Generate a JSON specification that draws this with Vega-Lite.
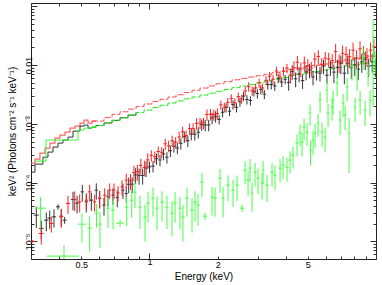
{
"$schema":"https://vega.github.io/schema/vega-lite/v6.json",
"width":345,"height":256,
"autosize":{"type":"none"},
"padding":{"left":31,"top":3,"right":6,"bottom":26},
"background":"white",
"config":{"view":{"stroke":"#222222","strokeWidth":1},
 "axis":{"labelFont":"Liberation Sans","titleFont":"Liberation Sans","labelColor":"black","titleColor":"black","tickColor":"#333333","titleFontWeight":"normal","labelFontSize":9,"titleFontSize":10,"domain":false,"grid":false,"labelFlush":false,"labelOverlap":false}},
"datasets":{
"model":[
{"e":0.300,"r":2.143e-4,"k":1.507e-4,"g":null},
{"e":0.3124,"r":2.506e-4,"k":2.061e-4,"g":2.317e-4},
{"e":0.3286,"r":3.177e-4,"k":2.061e-4,"g":2.317e-4},
{"e":0.3388,"r":3.177e-4,"k":2.710e-4,"g":2.317e-4},
{"e":0.3458,"r":3.864e-4,"k":2.710e-4,"g":2.317e-4},
{"e":0.3494,"r":3.864e-4,"k":2.710e-4,"g":5.284e-4},
{"e":0.3565,"r":3.864e-4,"k":3.304e-4,"g":5.284e-4},
{"e":0.3639,"r":4.699e-4,"k":3.304e-4,"g":5.284e-4},
{"e":0.3752,"r":4.699e-4,"k":4.018e-4,"g":5.284e-4},
{"e":0.3828,"r":5.715e-4,"k":4.018e-4,"g":5.284e-4},
{"e":0.3947,"r":5.715e-4,"k":4.699e-4,"g":5.284e-4},
{"e":0.4028,"r":6.427e-4,"k":4.699e-4,"g":5.284e-4},
{"e":0.4153,"r":6.427e-4,"k":5.284e-4,"g":5.284e-4},
{"e":0.4238,"r":7.228e-4,"k":5.284e-4,"g":5.284e-4},
{"e":0.4369,"r":7.228e-4,"k":5.943e-4,"g":5.284e-4},
{"e":0.4459,"r":8.453e-4,"k":5.943e-4,"g":5.284e-4},
{"e":0.4598,"r":8.453e-4,"k":7.516e-4,"g":5.284e-4},
{"e":0.4692,"r":9.141e-4,"k":7.516e-4,"g":5.284e-4},
{"e":0.4838,"r":9.141e-4,"k":7.516e-4,"g":7.816e-4},
{"e":0.4937,"r":1.030e-3,"k":9.141e-4,"g":7.816e-4},
{"e":0.5142,"r":1.159e-3,"k":9.528e-4,"g":8.453e-4},
{"e":0.5356,"r":1.030e-3,"k":8.453e-4,"g":8.453e-4},
{"e":0.5578,"r":1.114e-3,"k":8.790e-4,"g":8.790e-4},
{"e":0.5808,"r":1.114e-3,"k":9.37e-4,"g":9.37e-4},
{"e":0.6302,"r":1.274e-3,"k":1.033e-3,"g":1.033e-3},
{"e":0.6834,"r":1.449e-3,"k":1.146e-3,"g":1.146e-3},
{"e":0.7413,"r":1.603e-3,"k":1.268e-3,"g":1.268e-3},
{"e":0.8043,"r":1.782e-3,"k":1.409e-3,"g":1.409e-3},
{"e":0.8724,"r":1.966e-3,"k":1.556e-3,"g":1.556e-3},
{"e":0.9463,"r":2.177e-3,"k":1.714e-3,"g":1.714e-3},
{"e":1.0264,"r":2.404e-3,"k":1.897e-3,"g":1.897e-3},
{"e":1.1133,"r":2.618e-3,"k":2.070e-3,"g":2.070e-3},
{"e":1.2075,"r":2.858e-3,"k":2.265e-3,"g":2.265e-3},
{"e":1.3101,"r":3.126e-3,"k":2.460e-3,"g":2.460e-3},
{"e":1.4212,"r":3.404e-3,"k":2.661e-3,"g":2.661e-3},
{"e":1.5416,"r":3.724e-3,"k":2.864e-3,"g":2.864e-3},
{"e":1.6722,"r":4.064e-3,"k":3.090e-3,"g":3.090e-3},
{"e":1.8134,"r":4.416e-3,"k":3.327e-3,"g":3.327e-3},
{"e":1.9674,"r":4.808e-3,"k":3.573e-3,"g":3.573e-3},
{"e":2.1340,"r":5.224e-3,"k":3.846e-3,"g":3.846e-3},
{"e":2.3147,"r":5.623e-3,"k":4.130e-3,"g":4.130e-3},
{"e":2.5107,"r":5.943e-3,"k":4.395e-3,"g":4.395e-3},
{"e":2.7233,"r":6.252e-3,"k":4.677e-3,"g":4.677e-3},
{"e":2.9544,"r":6.577e-3,"k":4.977e-3,"g":4.977e-3},
{"e":3.2047,"r":6.982e-3,"k":5.321e-3,"g":5.321e-3},
{"e":3.4761,"r":7.430e-3,"k":5.741e-3,"g":5.741e-3},
{"e":3.7705,"r":7.907e-3,"k":6.152e-3,"g":6.152e-3},
{"e":4.0898,"r":8.433e-3,"k":6.637e-3,"g":6.637e-3},
{"e":4.4373,"r":8.913e-3,"k":7.015e-3,"g":7.015e-3},
{"e":4.8130,"r":9.376e-3,"k":7.379e-3,"g":7.379e-3},
{"e":5.2206,"r":9.908e-3,"k":7.762e-3,"g":7.762e-3},
{"e":5.6624,"r":1.042e-2,"k":8.222e-3,"g":8.222e-3},
{"e":6.1419,"r":1.096e-2,"k":8.670e-3,"g":8.670e-3},
{"e":6.6638,"r":1.159e-2,"k":9.141e-3,"g":9.141e-3},
{"e":7.2277,"r":1.219e-2,"k":9.638e-3,"g":9.638e-3},
{"e":7.8398,"r":1.282e-2,"k":1.014e-2,"g":1.014e-2},
{"e":8.5037,"r":1.343e-2,"k":1.072e-2,"g":1.072e-2},
{"e":9.2237,"r":1.416e-2,"k":1.122e-2,"g":1.122e-2},
{"e":10.0,"r":1.483e-2,"k":1.172e-2,"g":1.172e-2}
],
"black":[
{"e":0.3166,"de":0.008,"v":2.79e-5,"dv":1.1e-5},
{"e":0.333,"de":0.008,"v":1.66e-5,"dv":5.8e-6},
{"e":0.3505,"de":0.008,"v":2.29e-5,"dv":8e-6},
{"e":0.3628,"de":0.008,"v":2.48e-5,"dv":8.5e-6},
{"e":0.379,"de":0.008,"v":2.61e-5,"dv":9e-6},
{"e":0.3948,"de":0.008,"v":3.86e-5,"dv":4e-6},
{"e":0.408,"de":0.008,"v":2.68e-5,"dv":9e-6},
{"e":0.4223,"de":0.009,"v":2.29e-5,"dv":3e-6},
{"e":0.4597,"de":0.009,"v":5.16e-5,"dv":1.8e-5},
{"e":0.479,"de":0.009,"v":4.47e-5,"dv":1.5e-5},
{"e":0.5053,"de":0.009,"v":6.95e-5,"dv":2.2e-5},
{"e":0.5263,"de":0.009,"v":4.70e-5,"dv":1.6e-5},
{"e":0.5538,"de":0.01,"v":5.02e-5,"dv":1.7e-5},
{"e":0.5825,"de":0.01,"v":7.43e-5,"dv":2.3e-5},
{"e":0.603,"de":0.01,"v":5.43e-5,"dv":1.8e-5},
{"e":0.630,"de":0.01,"v":4.13e-5,"dv":1.4e-5},
{"e":0.656,"de":0.011,"v":5.71e-5,"dv":1.8e-5},
{"e":0.690,"de":0.011,"v":6.11e-5,"dv":1.9e-5},
{"e":0.721,"de":0.012,"v":5.58e-5,"dv":1.8e-5},
{"e":0.764,"de":0.012,"v":7.43e-5,"dv":2.2e-5},
{"e":0.790,"de":0.012,"v":6.53e-5,"dv":2e-5},
{"e":0.810,"de":0.0143,"v":9.38e-5,"dv":2.8e-5},
{"e":0.839,"de":0.0149,"v":9.40e-5,"dv":2.8e-5},
{"e":0.869,"de":0.0154,"v":1.352e-4,"dv":4.1e-5},
{"e":0.900,"de":0.0159,"v":1.321e-4,"dv":4.0e-5},
{"e":0.933,"de":0.0165,"v":1.324e-4,"dv":4.0e-5},
{"e":0.966,"de":0.0171,"v":1.774e-4,"dv":5.3e-5},
{"e":1.001,"de":0.0177,"v":1.854e-4,"dv":4.1e-5},
{"e":1.037,"de":0.0184,"v":1.910e-4,"dv":4.2e-5},
{"e":1.074,"de":0.0190,"v":2.559e-4,"dv":5.6e-5},
{"e":1.113,"de":0.0197,"v":2.427e-4,"dv":5.3e-5},
{"e":1.153,"de":0.0204,"v":3.076e-4,"dv":6.8e-5},
{"e":1.194,"de":0.0211,"v":2.698e-4,"dv":5.9e-5},
{"e":1.237,"de":0.0219,"v":3.491e-4,"dv":7.7e-5},
{"e":1.282,"de":0.0227,"v":4.150e-4,"dv":9.1e-5},
{"e":1.328,"de":0.0235,"v":3.882e-4,"dv":8.5e-5},
{"e":1.376,"de":0.0244,"v":4.656e-4,"dv":1.02e-4},
{"e":1.425,"de":0.0252,"v":6.039e-4,"dv":1.33e-4},
{"e":1.477,"de":0.0261,"v":5.164e-4,"dv":1.14e-4},
{"e":1.530,"de":0.0271,"v":6.683e-4,"dv":1.47e-4},
{"e":1.585,"de":0.0281,"v":6.653e-4,"dv":1.46e-4},
{"e":1.642,"de":0.0291,"v":7.194e-4,"dv":1.58e-4},
{"e":1.701,"de":0.0301,"v":9.705e-4,"dv":2.14e-4},
{"e":1.762,"de":0.0312,"v":9.528e-4,"dv":2.10e-4},
{"e":1.826,"de":0.0323,"v":9.572e-4,"dv":2.11e-4},
{"e":1.891,"de":0.0335,"v":1.265e-3,"dv":2.78e-4},
{"e":1.959,"de":0.0347,"v":1.340e-3,"dv":2.95e-4},
{"e":2.030,"de":0.0359,"v":1.189e-3,"dv":2.14e-4},
{"e":2.103,"de":0.0372,"v":1.574e-3,"dv":2.83e-4},
{"e":2.178,"de":0.0386,"v":1.897e-3,"dv":3.41e-4},
{"e":2.257,"de":0.0399,"v":1.644e-3,"dv":2.96e-4},
{"e":2.338,"de":0.0414,"v":2.128e-3,"dv":3.83e-4},
{"e":2.422,"de":0.0429,"v":1.905e-3,"dv":3.43e-4},
{"e":2.509,"de":0.0444,"v":2.377e-3,"dv":4.28e-4},
{"e":2.600,"de":0.0460,"v":2.965e-3,"dv":5.34e-4},
{"e":2.693,"de":0.0477,"v":2.600e-3,"dv":4.68e-4},
{"e":2.790,"de":0.0494,"v":2.500e-3,"dv":4.50e-4},
{"e":2.891,"de":0.0512,"v":3.540e-3,"dv":6.37e-4},
{"e":2.995,"de":0.0530,"v":3.273e-3,"dv":5.89e-4},
{"e":3.102,"de":0.0549,"v":3.855e-3,"dv":6.94e-4},
{"e":3.214,"de":0.0569,"v":3.206e-3,"dv":5.77e-4},
{"e":3.330,"de":0.0589,"v":4.656e-3,"dv":8.38e-4},
{"e":3.449,"de":0.0610,"v":4.677e-3,"dv":8.42e-4},
{"e":3.574,"de":0.0633,"v":4.426e-3,"dv":7.97e-4},
{"e":3.702,"de":0.0655,"v":5.943e-3,"dv":1.07e-3},
{"e":3.835,"de":0.0679,"v":5.140e-3,"dv":9.25e-4},
{"e":3.973,"de":0.0703,"v":5.741e-3,"dv":1.03e-3},
{"e":4.116,"de":0.0729,"v":5.070e-3,"dv":1.42e-3},
{"e":4.265,"de":0.0755,"v":7.762e-3,"dv":2.17e-3},
{"e":4.418,"de":0.0782,"v":5.834e-3,"dv":1.63e-3},
{"e":4.577,"de":0.0810,"v":7.031e-3,"dv":1.97e-3},
{"e":4.742,"de":0.0839,"v":5.445e-3,"dv":1.52e-3},
{"e":4.913,"de":0.0870,"v":7.674e-3,"dv":2.15e-3},
{"e":5.090,"de":0.0901,"v":8.241e-3,"dv":2.31e-3},
{"e":5.273,"de":0.0933,"v":6.281e-3,"dv":1.76e-3},
{"e":5.463,"de":0.0967,"v":7.586e-3,"dv":2.12e-3},
{"e":5.659,"de":0.1002,"v":7.278e-3,"dv":2.04e-3},
{"e":5.863,"de":0.1038,"v":9.661e-3,"dv":2.71e-3},
{"e":6.074,"de":0.1075,"v":6.714e-3,"dv":1.88e-3},
{"e":6.293,"de":0.1114,"v":9.099e-3,"dv":2.55e-3},
{"e":6.519,"de":0.1154,"v":7.586e-3,"dv":2.66e-3},
{"e":6.754,"de":0.1195,"v":9.141e-3,"dv":3.20e-3},
{"e":6.997,"de":0.1238,"v":1.076e-2,"dv":3.77e-3},
{"e":7.249,"de":0.1283,"v":7.278e-3,"dv":2.55e-3},
{"e":7.510,"de":0.1329,"v":1.079e-2,"dv":3.78e-3},
{"e":7.781,"de":0.1377,"v":8.995e-3,"dv":3.15e-3},
{"e":8.061,"de":0.1427,"v":1.007e-2,"dv":3.52e-3},
{"e":8.351,"de":0.1478,"v":8.492e-3,"dv":2.97e-3},
{"e":8.652,"de":0.1531,"v":1.135e-2,"dv":3.97e-3},
{"e":8.963,"de":0.1586,"v":1.265e-2,"dv":4.43e-3},
{"e":9.286,"de":0.1644,"v":9.572e-3,"dv":3.35e-3},
{"e":9.620,"de":0.1703,"v":1.148e-2,"dv":4.02e-3},
{"e":9.967,"de":0.1764,"v":9.528e-3,"dv":3.33e-3}
],
"red":[
{"e":0.305,"de":0.005,"v":1.0e-5,"dv":5e-7},
{"e":0.333,"de":0.008,"v":1.36e-5,"dv":4.8e-6},
{"e":0.3688,"de":0.008,"v":2.01e-5,"dv":6e-6},
{"e":0.408,"de":0.008,"v":2.61e-5,"dv":9e-6},
{"e":0.4369,"de":0.009,"v":4.42e-5,"dv":1.5e-5},
{"e":0.4677,"de":0.009,"v":5.16e-5,"dv":1.9e-5},
{"e":0.492,"de":0.009,"v":4.70e-5,"dv":1.6e-5},
{"e":0.5263,"de":0.009,"v":5.02e-5,"dv":1.6e-5},
{"e":0.5447,"de":0.01,"v":6.95e-5,"dv":2.2e-5},
{"e":0.5727,"de":0.01,"v":4.70e-5,"dv":1.5e-5},
{"e":0.603,"de":0.01,"v":5.37e-5,"dv":1.7e-5},
{"e":0.6346,"de":0.011,"v":6.11e-5,"dv":1.9e-5},
{"e":0.6677,"de":0.011,"v":7.43e-5,"dv":2.2e-5},
{"e":0.6975,"de":0.011,"v":7.43e-5,"dv":2.2e-5},
{"e":0.7266,"de":0.012,"v":6.68e-5,"dv":2e-5},
{"e":0.7565,"de":0.012,"v":8.45e-5,"dv":2.5e-5},
{"e":0.790,"de":0.012,"v":1.10e-4,"dv":3.2e-5},
{"e":0.825,"de":0.0146,"v":1.072e-4,"dv":3.2e-5},
{"e":0.854,"de":0.0151,"v":1.489e-4,"dv":4.5e-5},
{"e":0.885,"de":0.0157,"v":1.535e-4,"dv":4.6e-5},
{"e":0.916,"de":0.0162,"v":1.963e-4,"dv":5.9e-5},
{"e":0.950,"de":0.0168,"v":1.811e-4,"dv":5.4e-5},
{"e":0.983,"de":0.0174,"v":2.427e-4,"dv":7.3e-5},
{"e":1.019,"de":0.0180,"v":2.911e-4,"dv":6.4e-5},
{"e":1.056,"de":0.0187,"v":2.748e-4,"dv":6.0e-5},
{"e":1.093,"de":0.0193,"v":3.381e-4,"dv":7.4e-5},
{"e":1.133,"de":0.0201,"v":3.281e-4,"dv":7.2e-5},
{"e":1.174,"de":0.0208,"v":4.571e-4,"dv":1.01e-4},
{"e":1.215,"de":0.0215,"v":4.217e-4,"dv":9.3e-5},
{"e":1.259,"de":0.0223,"v":5.152e-4,"dv":1.13e-4},
{"e":1.305,"de":0.0231,"v":4.875e-4,"dv":1.07e-4},
{"e":1.352,"de":0.0239,"v":5.970e-4,"dv":1.31e-4},
{"e":1.401,"de":0.0248,"v":7.311e-4,"dv":1.61e-4},
{"e":1.451,"de":0.0257,"v":6.310e-4,"dv":1.39e-4},
{"e":1.504,"de":0.0266,"v":8.337e-4,"dv":1.83e-4},
{"e":1.558,"de":0.0276,"v":8.356e-4,"dv":1.84e-4},
{"e":1.614,"de":0.0286,"v":1.016e-3,"dv":2.24e-4},
{"e":1.672,"de":0.0296,"v":1.035e-3,"dv":2.28e-4},
{"e":1.732,"de":0.0307,"v":1.042e-3,"dv":2.29e-4},
{"e":1.794,"de":0.0318,"v":1.439e-3,"dv":3.17e-4},
{"e":1.859,"de":0.0329,"v":1.462e-3,"dv":3.22e-4},
{"e":1.925,"de":0.0341,"v":1.442e-3,"dv":3.17e-4},
{"e":1.994,"de":0.0353,"v":1.500e-3,"dv":3.30e-4},
{"e":2.067,"de":0.0366,"v":2.104e-3,"dv":3.79e-4},
{"e":2.141,"de":0.0379,"v":1.928e-3,"dv":3.47e-4},
{"e":2.217,"de":0.0392,"v":2.323e-3,"dv":4.18e-4},
{"e":2.298,"de":0.0407,"v":2.704e-3,"dv":4.87e-4},
{"e":2.380,"de":0.0421,"v":2.291e-3,"dv":4.12e-4},
{"e":2.466,"de":0.0436,"v":2.911e-3,"dv":5.24e-4},
{"e":2.554,"de":0.0452,"v":2.655e-3,"dv":4.78e-4},
{"e":2.647,"de":0.0469,"v":3.648e-3,"dv":6.57e-4},
{"e":2.741,"de":0.0485,"v":4.305e-3,"dv":7.75e-4},
{"e":2.840,"de":0.0503,"v":3.656e-3,"dv":6.58e-4},
{"e":2.943,"de":0.0521,"v":4.083e-3,"dv":7.35e-4},
{"e":3.049,"de":0.0540,"v":5.000e-3,"dv":9.00e-4},
{"e":3.158,"de":0.0559,"v":4.083e-3,"dv":7.35e-4},
{"e":3.272,"de":0.0579,"v":5.508e-3,"dv":9.91e-4},
{"e":3.390,"de":0.0600,"v":6.471e-3,"dv":1.16e-3},
{"e":3.511,"de":0.0621,"v":5.754e-3,"dv":1.04e-3},
{"e":3.638,"de":0.0644,"v":7.925e-3,"dv":1.43e-3},
{"e":3.769,"de":0.0667,"v":6.281e-3,"dv":1.13e-3},
{"e":3.904,"de":0.0691,"v":7.907e-3,"dv":1.42e-3},
{"e":4.045,"de":0.0716,"v":8.892e-3,"dv":1.60e-3},
{"e":4.190,"de":0.0742,"v":6.745e-3,"dv":1.89e-3},
{"e":4.342,"de":0.0769,"v":9.078e-3,"dv":2.54e-3},
{"e":4.498,"de":0.0796,"v":1.119e-2,"dv":3.13e-3},
{"e":4.659,"de":0.0825,"v":8.590e-3,"dv":2.41e-3},
{"e":4.827,"de":0.0854,"v":1.091e-2,"dv":3.05e-3},
{"e":5.001,"de":0.0885,"v":9.817e-3,"dv":2.75e-3},
{"e":5.182,"de":0.0917,"v":8.851e-3,"dv":2.48e-3},
{"e":5.368,"de":0.0950,"v":1.265e-2,"dv":3.54e-3},
{"e":5.561,"de":0.0984,"v":1.403e-2,"dv":3.93e-3},
{"e":5.761,"de":0.1020,"v":1.028e-2,"dv":2.88e-3},
{"e":5.969,"de":0.1057,"v":1.315e-2,"dv":3.68e-3},
{"e":6.183,"de":0.1094,"v":1.271e-2,"dv":3.56e-3},
{"e":6.406,"de":0.1134,"v":1.199e-2,"dv":3.36e-3},
{"e":6.636,"de":0.1175,"v":1.698e-2,"dv":5.94e-3},
{"e":6.875,"de":0.1217,"v":1.125e-2,"dv":3.94e-3},
{"e":7.123,"de":0.1261,"v":1.592e-2,"dv":5.57e-3},
{"e":7.379,"de":0.1306,"v":1.521e-2,"dv":5.32e-3},
{"e":7.645,"de":0.1353,"v":1.390e-2,"dv":4.87e-3},
{"e":7.921,"de":0.1402,"v":1.795e-2,"dv":6.28e-3},
{"e":8.206,"de":0.1452,"v":1.327e-2,"dv":4.64e-3},
{"e":8.501,"de":0.1505,"v":1.892e-2,"dv":6.62e-3},
{"e":8.808,"de":0.1559,"v":1.552e-2,"dv":5.43e-3},
{"e":9.124,"de":0.1615,"v":1.435e-2,"dv":5.02e-3},
{"e":9.453,"de":0.1673,"v":1.795e-2,"dv":6.28e-3},
{"e":9.793,"de":0.1733,"v":2.051e-2,"dv":7.18e-3}
],
"green":[
{"e":0.3304,"de":0.0185,"v":3.67e-5,"dv":2.0e-5},
{"e":0.4195,"de":0.068,"v":5.6e-6,"dv":3.0e-6},
{"e":0.5037,"de":0.02,"v":1.96e-5,"dv":1.0e-5},
{"e":0.5447,"de":0.012,"v":1.67e-5,"dv":1.0e-5},
{"e":0.5836,"de":0.012,"v":3.01e-5,"dv":1.3e-5},
{"e":0.6048,"de":0.012,"v":1.96e-5,"dv":1.2e-5},
{"e":0.6561,"de":0.013,"v":3.67e-5,"dv":2.0e-5},
{"e":0.6904,"de":0.013,"v":3.40e-5,"dv":1.8e-5},
{"e":0.7417,"de":0.03,"v":2.04e-5,"dv":3e-6},
{"e":0.7935,"de":0.015,"v":3.82e-5,"dv":2.0e-5},
{"e":0.835,"de":0.015,"v":5.02e-5,"dv":2.5e-5},
{"e":0.8633,"de":0.015,"v":6.87e-5,"dv":3.2e-5},
{"e":0.9085,"de":0.016,"v":3.82e-5,"dv":2.2e-5},
{"e":0.9559,"de":0.017,"v":2.58e-5,"dv":1.6e-5},
{"e":0.9856,"de":0.017,"v":4.47e-5,"dv":2.4e-5},
{"e":1.037,"de":0.018,"v":5.43e-5,"dv":2.8e-5},
{"e":1.080,"de":0.019,"v":3.67e-5,"dv":2.1e-5},
{"e":1.136,"de":0.02,"v":4.65e-5,"dv":2.5e-5},
{"e":1.195,"de":0.021,"v":3.82e-5,"dv":2.2e-5},
{"e":1.258,"de":0.022,"v":3.01e-5,"dv":1.8e-5},
{"e":1.297,"de":0.023,"v":4.47e-5,"dv":2.4e-5},
{"e":1.364,"de":0.024,"v":3.67e-5,"dv":2.1e-5},
{"e":1.406,"de":0.025,"v":2.58e-5,"dv":1.6e-5},
{"e":1.465,"de":0.026,"v":5.43e-5,"dv":2.8e-5},
{"e":1.541,"de":0.027,"v":3.40e-5,"dv":2.0e-5},
{"e":1.589,"de":0.028,"v":4.65e-5,"dv":2.5e-5},
{"e":1.638,"de":0.029,"v":4.13e-5,"dv":2.3e-5},
{"e":1.706,"de":0.03,"v":1.016e-4,"dv":4.5e-5},
{"e":1.759,"de":0.04,"v":2.68e-5,"dv":4e-6},
{"e":1.889,"de":0.033,"v":5.65e-5,"dv":2.9e-5},
{"e":1.948,"de":0.034,"v":5.43e-5,"dv":2.8e-5},
{"e":2.049,"de":0.036,"v":1.191e-4,"dv":5.2e-5},
{"e":2.113,"de":0.037,"v":5.43e-5,"dv":2.9e-5},
{"e":2.223,"de":0.039,"v":9.04e-5,"dv":4.2e-5},
{"e":2.339,"de":0.041,"v":7.43e-5,"dv":3.6e-5},
{"e":2.436,"de":0.043,"v":9.04e-5,"dv":4.2e-5},
{"e":2.563,"de":0.06,"v":3.67e-5,"dv":5e-6},
{"e":2.642,"de":0.046,"v":1.629e-4,"dv":7.0e-5},
{"e":2.724,"de":0.048,"v":1.099e-4,"dv":5.0e-5},
{"e":2.780,"de":0.04,"v":1.762e-4,"dv":7.5e-5},
{"e":2.837,"de":0.04,"v":6.61e-5,"dv":3.4e-5},
{"e":2.925,"de":0.05,"v":1.507e-4,"dv":6.5e-5},
{"e":3.015,"de":0.05,"v":1.191e-4,"dv":5.5e-5},
{"e":3.141,"de":0.05,"v":9.77e-5,"dv":4.7e-5},
{"e":3.173,"de":0.05,"v":1.629e-4,"dv":7.0e-5},
{"e":3.305,"de":0.06,"v":9.04e-5,"dv":4.4e-5},
{"e":3.476,"de":0.06,"v":1.507e-4,"dv":6.5e-5},
{"e":3.583,"de":0.06,"v":1.340e-4,"dv":6.0e-5},
{"e":3.772,"de":0.065,"v":1.762e-4,"dv":7.5e-5},
{"e":3.888,"de":0.065,"v":1.982e-4,"dv":8.5e-5},
{"e":4.049,"de":0.07,"v":1.832e-4,"dv":8.0e-5},
{"e":4.174,"de":0.07,"v":2.410e-4,"dv":1.0e-4},
{"e":4.303,"de":0.07,"v":2.931e-4,"dv":1.2e-4},
{"e":4.482,"de":0.07,"v":4.70e-4,"dv":1.9e-4},
{"e":4.620,"de":0.07,"v":6.95e-4,"dv":2.8e-4},
{"e":4.716,"de":0.07,"v":4.89e-4,"dv":2.1e-4},
{"e":4.813,"de":0.07,"v":8.79e-4,"dv":3.6e-4},
{"e":4.962,"de":0.07,"v":7.23e-4,"dv":3.0e-4},
{"e":5.116,"de":0.07,"v":1.524e-3,"dv":6.0e-4},
{"e":5.142,"de":0.07,"v":3.57e-4,"dv":1.6e-4},
{"e":5.274,"de":0.08,"v":5.28e-4,"dv":2.3e-4},
{"e":5.383,"de":0.08,"v":6.95e-4,"dv":3.0e-4},
{"e":5.549,"de":0.08,"v":1.030e-3,"dv":4.3e-4},
{"e":5.664,"de":0.08,"v":2.535e-3,"dv":1.0e-3},
{"e":5.780,"de":0.08,"v":7.23e-4,"dv":3.2e-4},
{"e":5.959,"de":0.08,"v":5.94e-4,"dv":2.7e-4},
{"e":6.081,"de":0.08,"v":3.758e-3,"dv":1.5e-3},
{"e":6.143,"de":0.08,"v":1.524e-3,"dv":6.5e-4},
{"e":6.399,"de":0.09,"v":1.928e-3,"dv":8.0e-4},
{"e":6.465,"de":0.09,"v":2.535e-3,"dv":1.1e-3},
{"e":6.734,"de":0.09,"v":4.943e-3,"dv":2.0e-3},
{"e":6.942,"de":0.09,"v":1.159e-3,"dv":5.2e-4},
{"e":7.157,"de":0.1,"v":2.254e-3,"dv":9.5e-4},
{"e":7.304,"de":0.1,"v":1.409e-3,"dv":6.3e-4},
{"e":7.454,"de":0.1,"v":4.227e-3,"dv":1.8e-3},
{"e":7.607,"de":0.1,"v":6.95e-4,"dv":5.5e-4},
{"e":7.843,"de":0.1,"v":9.27e-3,"dv":3.8e-3},
{"e":8.085,"de":0.1,"v":1.928e-3,"dv":8.5e-4},
{"e":8.251,"de":0.1,"v":6.25e-3,"dv":2.6e-3},
{"e":8.506,"de":0.12,"v":2.535e-3,"dv":1.1e-3},
{"e":8.770,"de":0.12,"v":1.371e-2,"dv":5.5e-3},
{"e":8.950,"de":0.12,"v":1.714e-3,"dv":8.0e-4},
{"e":9.228,"de":0.12,"v":7.31e-3,"dv":3.0e-3},
{"e":9.417,"de":0.12,"v":2.535e-3,"dv":1.2e-3},
{"e":9.708,"de":0.12,"v":3.0e-2,"dv":2.8e-2},
{"e":9.908,"de":0.08,"v":1.219e-2,"dv":5.0e-3}
]
},
"layer":[
{"data":{"name":"model"},"transform":[{"filter":"datum.e <= 0.59"}],
 "mark":{"type":"line","interpolate":"step-after","color":"#ff6060","strokeWidth":1.2,"clip":true},
 "encoding":{
  "x":{"field":"e","type":"quantitative","scale":{"type":"log","domain":[0.3,10],"nice":false},
   "axis":{"orient":"bottom","values":[0.3,0.4,0.5,0.6,0.7,0.8,0.9,1,2,3,4,5,6,7,8,9,10],
    "labelExpr":"datum.value==0.5?'0.5':datum.value==1?'1':datum.value==2?'2':datum.value==5?'5':''",
    "tickSize":{"condition":{"test":"datum.value==1||datum.value==10","value":-6},"value":-3},
    "labelPadding":4,"title":"Energy (keV)","titlePadding":2}},
  "y":{"field":"r","type":"quantitative","scale":{"type":"log","domain":[5e-6,0.114],"nice":false},
   "axis":{"orient":"left","values":[6e-6,7e-6,8e-6,9e-6,1e-5,2e-5,3e-5,4e-5,5e-5,6e-5,7e-5,8e-5,9e-5,1e-4,2e-4,3e-4,4e-4,5e-4,6e-4,7e-4,8e-4,9e-4,1e-3,2e-3,3e-3,4e-3,5e-3,6e-3,7e-3,8e-3,9e-3,1e-2,2e-2,3e-2,4e-2,5e-2,6e-2,7e-2,8e-2,9e-2,0.1],
    "labelExpr":"datum.value==0.01?'0.01':datum.value==0.001?'10⁻³':datum.value==0.0001?'10⁻⁴':datum.value==0.00001?'10⁻⁵':''",
    "tickSize":{"condition":{"test":"datum.value==0.01||datum.value==0.001||datum.value==0.0001||datum.value==0.00001||datum.value==0.1","value":-6},"value":-3},
    "labelAngle":-90,"labelAlign":"center","labelBaseline":"bottom","labelPadding":4,
    "title":"keV² (Photons cm⁻² s⁻¹ keV⁻¹)","titlePadding":4}}}},
{"data":{"name":"model"},"transform":[{"filter":"datum.e <= 0.9"}],
 "mark":{"type":"line","interpolate":"step-after","color":"#333333","strokeWidth":1,"clip":true},
 "encoding":{
  "x":{"field":"e","type":"quantitative",
   "axis":{"orient":"top","values":[0.3,0.4,0.5,0.6,0.7,0.8,0.9,1,2,3,4,5,6,7,8,9,10],"labels":false,"title":null,
    "tickSize":{"condition":{"test":"datum.value==1||datum.value==10","value":-6},"value":-3}}},
  "y":{"field":"k","type":"quantitative",
   "axis":{"orient":"right","values":[6e-6,7e-6,8e-6,9e-6,1e-5,2e-5,3e-5,4e-5,5e-5,6e-5,7e-5,8e-5,9e-5,1e-4,2e-4,3e-4,4e-4,5e-4,6e-4,7e-4,8e-4,9e-4,1e-3,2e-3,3e-3,4e-3,5e-3,6e-3,7e-3,8e-3,9e-3,1e-2,2e-2,3e-2,4e-2,5e-2,6e-2,7e-2,8e-2,9e-2,0.1],"labels":false,"title":null,
    "tickSize":{"condition":{"test":"datum.value==0.01||datum.value==0.001||datum.value==0.0001||datum.value==0.00001||datum.value==0.1","value":-6},"value":-3}}}}},
{"data":{"name":"model"},"transform":[{"filter":"datum.e >= 0.55"}],
 "mark":{"type":"line","interpolate":"step-after","color":"#ff5050","strokeWidth":1,"clip":true,"strokeDash":[6,2]},
 "encoding":{"x":{"field":"e","type":"quantitative","axis":null},"y":{"field":"r","type":"quantitative","axis":null}}},
{"data":{"name":"model"},"transform":[{"filter":"datum.e <= 0.59"}],
 "mark":{"type":"line","interpolate":"step-after","color":"#33ff33","strokeWidth":1,"clip":true},
 "encoding":{"x":{"field":"e","type":"quantitative","axis":null},"y":{"field":"g","type":"quantitative","axis":null}}},
{"data":{"name":"model"},"transform":[{"filter":"datum.e >= 0.55"}],
 "mark":{"type":"line","interpolate":"step-after","color":"#22ee22","strokeWidth":1,"clip":true,"strokeDash":[6,2]},
 "encoding":{"x":{"field":"e","type":"quantitative","axis":null},"y":{"field":"g","type":"quantitative","axis":null}}},
{"data":{"name":"black"},"mark":{"type":"errorbar","color":"#333333","thickness":1,"clip":true},
 "encoding":{"x":{"field":"e","type":"quantitative","axis":null},"y":{"field":"v","type":"quantitative","axis":null},"yError":{"field":"dv"}}},
{"data":{"name":"black"},"mark":{"type":"errorbar","color":"#333333","thickness":1,"clip":true},
 "encoding":{"y":{"field":"v","type":"quantitative","axis":null},"x":{"field":"e","type":"quantitative","axis":null},"xError":{"field":"de"}}},
{"data":{"name":"red"},"mark":{"type":"errorbar","color":"#ff2020","thickness":1,"clip":true},
 "encoding":{"x":{"field":"e","type":"quantitative","axis":null},"y":{"field":"v","type":"quantitative","axis":null},"yError":{"field":"dv"}}},
{"data":{"name":"red"},"mark":{"type":"errorbar","color":"#ff2020","thickness":1,"clip":true},
 "encoding":{"y":{"field":"v","type":"quantitative","axis":null},"x":{"field":"e","type":"quantitative","axis":null},"xError":{"field":"de"}}},
{"data":{"name":"green"},"mark":{"type":"errorbar","color":"#44ff44","thickness":1,"clip":true},
 "encoding":{"x":{"field":"e","type":"quantitative","axis":null},"y":{"field":"v","type":"quantitative","axis":null},"yError":{"field":"dv"}}},
{"data":{"name":"green"},"mark":{"type":"errorbar","color":"#44ff44","thickness":1,"clip":true},
 "encoding":{"y":{"field":"v","type":"quantitative","axis":null},"x":{"field":"e","type":"quantitative","axis":null},"xError":{"field":"de"}}}
],
"resolve":{"axis":{"x":"independent","y":"independent"}}
}
